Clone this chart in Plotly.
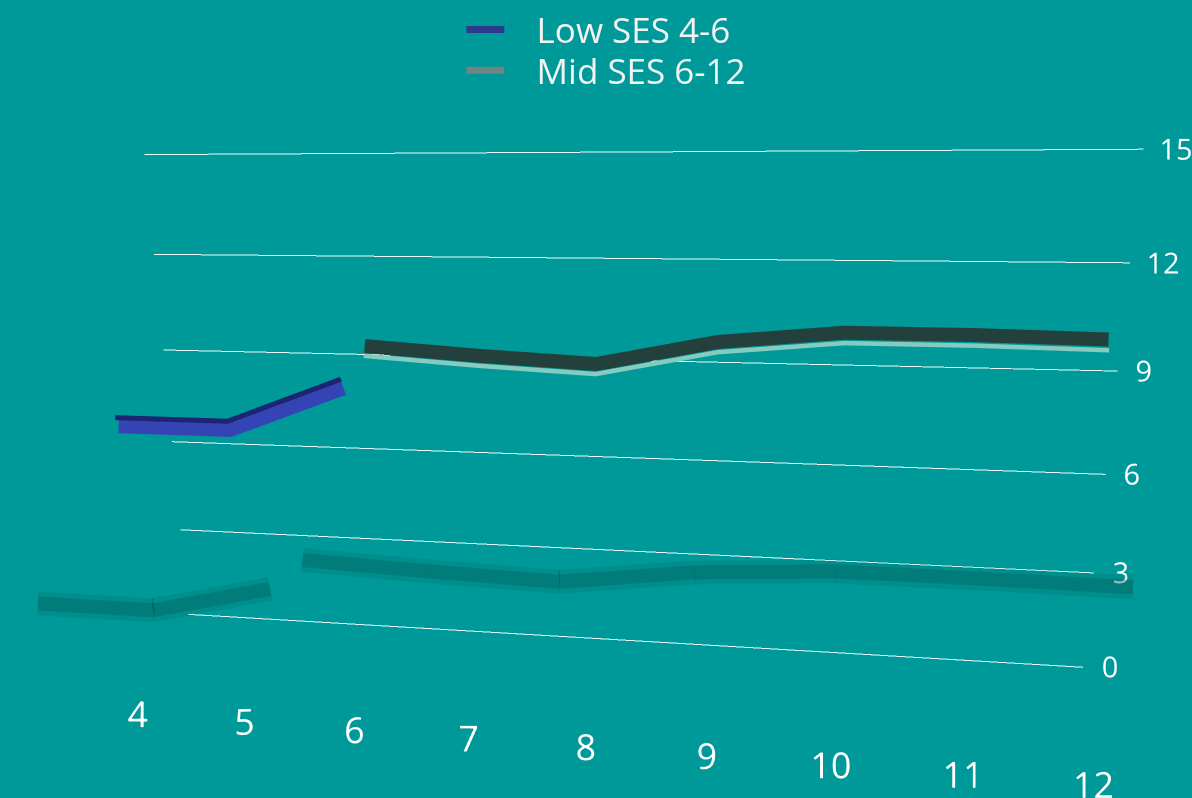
import plotly.graph_objects as go

ages = [4, 5, 6, 7, 8, 9, 10, 11, 12]
age_labels = ["4", "5", "6", "7", "8", "9", "10", "11", "12"]
low_ages = [4, 5, 6]
low_vals = [7.8, 7.8, 9.0]
mid_ages = [6, 7, 8, 9, 10, 11, 12]
mid_vals = [9.8, 9.6, 9.45, 10.1, 10.4, 10.4, 10.35]
z_ticks = [0, 3, 6, 9, 12, 15]
z_labels = ["0", "3", "6", "9", "12", "15"]

BG = "#009999"
FONT = "Open Sans, Lato, DejaVu Sans, sans-serif"

Y_BACK = 1.0               # back wall (gridlines)
Y_LOW, Y_MID = 0.1, 0.4    # series rows
Y_LABEL, Y_SHADOW = 0.0, -0.3
x_lo, x_hi = ages[0] - 0.5, ages[-1] + 0.5

fig = go.Figure()

# back-wall gridlines at each value tick
for t in z_ticks:
    fig.add_trace(go.Scatter3d(
        x=[x_lo, x_hi], y=[Y_BACK, Y_BACK], z=[t, t], mode="lines",
        line=dict(color="rgba(235,255,250,0.9)", width=2),
        showlegend=False, hoverinfo="skip"))

# value labels on the right of the wall
fig.add_trace(go.Scatter3d(
    x=[x_hi - 0.08] * len(z_ticks), y=[Y_BACK] * len(z_ticks), z=z_ticks,
    mode="text", text=z_labels, textposition="middle right",
    textfont=dict(size=29, color="white", family=FONT),
    showlegend=False, hoverinfo="skip"))

# category labels along the front
fig.add_trace(go.Scatter3d(
    x=ages, y=[Y_LABEL] * len(ages), z=[-0.4] * len(ages),
    mode="text", text=age_labels, textposition="middle center",
    textfont=dict(size=36, color="white", family=FONT),
    showlegend=False, hoverinfo="skip"))

# soft drop shadows (flattened projection of each series)
for xs, vs, shift, lift in ((low_ages, low_vals, -0.4, 0.0),
                            (mid_ages, mid_vals, -0.12, 0.3)):
    sx = [a + shift for a in xs]
    sz = [0.625 * v - 1.3 + lift for v in vs]
    for w, op in ((48, 0.15), (28, 0.28)):
        fig.add_trace(go.Scatter3d(
            x=sx, y=[Y_SHADOW] * len(xs), z=sz, mode="lines", opacity=op,
            line=dict(color="#00504c", width=w),
            showlegend=False, hoverinfo="skip"))

# Low SES ribbon: bright front face with dark top edge
fig.add_trace(go.Scatter3d(
    x=low_ages, y=[Y_LOW] * len(low_ages), z=low_vals, mode="lines",
    showlegend=False, hoverinfo="skip",
    line=dict(color="#3444b4", width=34)))
fig.add_trace(go.Scatter3d(
    x=low_ages, y=[Y_LOW - 0.02] * len(low_ages), z=[v + 0.22 for v in low_vals],
    mode="lines", showlegend=False, hoverinfo="skip",
    line=dict(color="#1b2572", width=10)))

# Mid SES ribbon: dark top plus light lower edge
fig.add_trace(go.Scatter3d(
    x=mid_ages, y=[Y_MID] * len(mid_ages), z=mid_vals, mode="lines",
    showlegend=False, hoverinfo="skip",
    line=dict(color="#24403c", width=28)))
fig.add_trace(go.Scatter3d(
    x=mid_ages, y=[Y_MID - 0.02] * len(mid_ages), z=[v - 0.25 for v in mid_vals],
    mode="lines", showlegend=False, hoverinfo="skip",
    line=dict(color="#86cbc0", width=9)))

# legend entries
fig.add_trace(go.Scatter3d(
    x=[None], y=[None], z=[None], mode="lines",
    name="\u00a0\u00a0\u00a0Low SES 4-6",
    legend="legend", line=dict(color="#2b3a8c", width=7)))
fig.add_trace(go.Scatter3d(
    x=[None], y=[None], z=[None], mode="lines",
    name="\u00a0\u00a0\u00a0Mid SES 6-12",
    legend="legend2", line=dict(color="#6e8583", width=7)))

leg = dict(xanchor="left", yanchor="middle", font=dict(size=35, color="#f2f2f2"),
           bgcolor="rgba(0,0,0,0)", itemwidth=38)

axis_common = dict(showbackground=False, showspikes=False, zeroline=False,
                   showline=False, showgrid=False, showticklabels=False,
                   ticks="", title="")
fig.update_layout(
    width=1192, height=798,
    paper_bgcolor=BG, plot_bgcolor=BG,
    margin=dict(l=0, r=0, t=0, b=0),
    font=dict(family=FONT, color="white", size=24),
    legend=dict(leg, x=0.387, y=0.965),
    legend2=dict(leg, x=0.387, y=0.914),
    scene=dict(
        bgcolor=BG,
        domain=dict(x=[0, 1], y=[0, 1]),
        xaxis=dict(axis_common, range=[x_lo - 0.3, x_hi + 1.0]),
        yaxis=dict(axis_common, range=[Y_SHADOW - 0.1, Y_BACK + 0.05]),
        zaxis=dict(axis_common, range=[-2.5, 15.4]),
        aspectmode="manual", aspectratio=dict(x=3.08, y=0.75, z=1.69),
        camera=dict(eye=dict(x=0.2, y=-2.3, z=0.70), center=dict(x=-0.1, y=0, z=0.20),
                    projection=dict(type="perspective")),
    ),
)

fig.write_html("out.html")
